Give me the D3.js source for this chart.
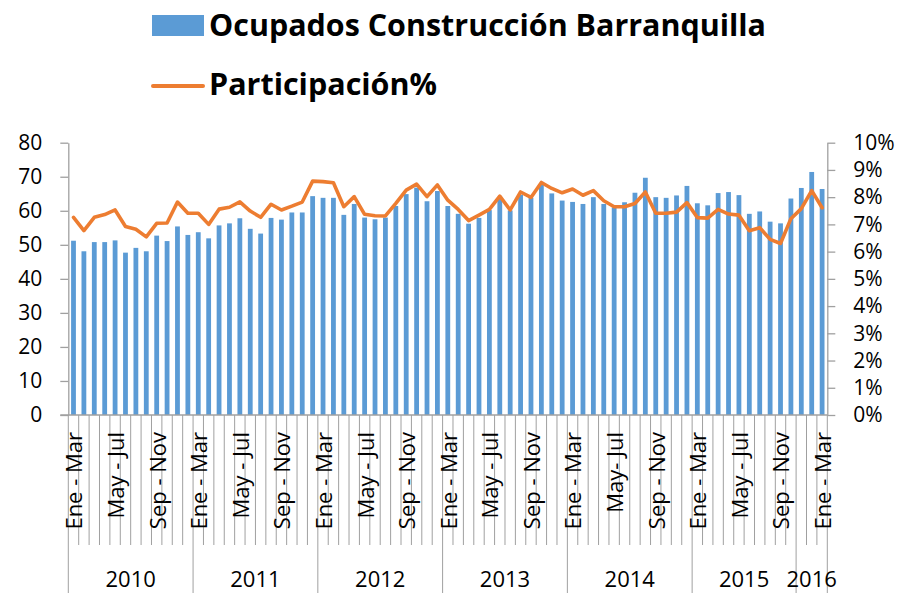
<!DOCTYPE html>
<html>
<head>
<meta charset="utf-8">
<title>Ocupados Construcción Barranquilla</title>
<style>
  body { margin: 0; background: #fff; }
  svg { display: block; font-family: "Open Sans", sans-serif; }
</style>
</head>
<body>
<svg width="901" height="593"></svg>
<script src="https://cdn.jsdelivr.net/npm/d3@7"></script>
<script>
// trimestres móviles (etiqueta de cada categoría)
const periodos = [
  "Ene - Mar","Feb - Abr","Mar - May","Abr - Jun","May - Jul","Jun - Ago","Jul - Sep","Ago - Oct","Sep - Nov","Oct - Dic","Nov - Ene","Dic - Feb",
  "Ene - Mar","Feb - Abr","Mar - May","Abr - Jun","May - Jul","Jun - Ago","Jul - Sep","Ago - Oct","Sep - Nov","Oct - Dic","Nov - Ene","Dic - Feb",
  "Ene - Mar","Feb - Abr","Mar - May","Abr - Jun","May - Jul","Jun - Ago","Jul - Sep","Ago - Oct","Sep - Nov","Oct - Dic","Nov - Ene","Dic - Feb",
  "Ene - Mar","Feb - Abr","Mar - May","Abr - Jun","May - Jul","Jun - Ago","Jul - Sep","Ago - Oct","Sep - Nov","Oct - Dic","Nov - Ene","Dic - Feb",
  "Ene - Mar","Feb - Abr","Mar - May","Abr - Jun","May- Jul","Jun - Ago","Jul - Sep","Ago - Oct","Sep - Nov","Oct - Dic","Nov - Ene","Dic - Feb",
  "Ene - Mar","Feb - Abr","Mar - May","Abr - Jun","May - Jul","Jun - Ago","Jul - Sep","Ago - Oct","Sep - Nov","Oct - Dic",
  "Nov - Ene","Dic - Feb","Ene - Mar"
]
// años y cuántos trimestres abarca cada uno
const anios = ["2010","2011","2012","2013","2014","2015","2016"]
const trimestresPorAnio = [12, 12, 12, 12, 12, 10, 3]

// miles de ocupados
const ocupados = [
  51.2,48.1,50.8,50.8,51.3,47.7,49.1,48.1,52.7,51.1,55.4,52.9,
  53.7,51.9,55.7,56.3,57.8,54.7,53.3,57.9,57.4,59.5,59.5,64.3,
  63.8,63.8,58.8,62.0,58.0,57.5,58.0,61.4,64.9,66.8,62.8,65.8,
  61.4,59.1,56.2,57.9,60.2,63.6,60.1,64.7,63.8,67.6,65.1,63.0,
  62.6,62.0,64.0,62.0,61.0,62.5,65.3,69.7,64.0,63.8,64.5,67.3,
  62.2,61.6,65.2,65.5,64.6,59.1,59.8,56.8,56.3,63.6,
  66.7,71.4,66.4
]
// participación (%)
const participacion = [
  7.26,6.77,7.26,7.36,7.53,6.92,6.82,6.54,7.04,7.05,7.82,7.41,
  7.41,7.00,7.56,7.63,7.83,7.49,7.26,7.74,7.53,7.67,7.82,8.59,
  8.57,8.53,7.65,8.02,7.37,7.32,7.31,7.77,8.26,8.48,8.02,8.45,
  7.89,7.55,7.14,7.34,7.55,8.04,7.53,8.19,7.99,8.54,8.32,8.16,
  8.30,8.07,8.24,7.87,7.65,7.65,7.77,8.19,7.41,7.41,7.45,7.80,
  7.25,7.23,7.55,7.38,7.34,6.77,6.88,6.45,6.30,7.21,
  7.58,8.24,7.61
]
const ticksIzq = [0,10,20,30,40,50,60,70,80]
const ticksDer = [0,1,2,3,4,5,6,7,8,9,10]

const azul = "#5B9BD5", naranja = "#ED7D31", gris = "#A0A0A0"
const mIzq = 68.3, mDer = 827.3, mSup = 142.7, mInf = 415

const svg = d3.select("svg")
const idx = d3.range(periodos.length)

// escalas
const x = d3.scaleBand().domain(idx).range([mIzq, mDer])
const yL = d3.scaleLinear().domain([0, 80]).range([mInf, mSup])
const yR = d3.scaleLinear().domain([0, 10]).range([mInf, mSup])

// barras
svg.append("g").selectAll("rect").data(ocupados).enter().append("rect")
  .attr("fill", azul)
  .attr("x", (d, i) => x(i) + x.bandwidth()/2 - 2.4)
  .attr("width", 4.8)
  .attr("y", d => yL(d))
  .attr("height", d => mInf - yL(d))

// ejes verticales
const ejeIzq = svg.append("g").attr("transform", `translate(${mIzq},0)`)
  .call(d3.axisLeft(yL).tickValues(ticksIzq).tickSize(8).tickSizeOuter(0).tickPadding(18))
const ejeDer = svg.append("g").attr("transform", `translate(${mDer},0)`)
  .call(d3.axisRight(yR).tickValues(ticksDer).tickSize(8).tickSizeOuter(0).tickPadding(18)
    .tickFormat(d => d + "%"))
;[ejeIzq, ejeDer].forEach(g => {
  g.select(".domain").attr("stroke", gris).attr("stroke-width", 1.3)
  g.selectAll(".tick line").attr("stroke", gris).attr("stroke-width", 1.3)
  g.selectAll(".tick text").attr("fill", "#000").style("font-size", "21px")
    .style("font-family", "'Open Sans', sans-serif")
})

// línea de participación
svg.append("path").datum(participacion)
  .attr("fill", "none").attr("stroke", naranja).attr("stroke-width", 3.6)
  .attr("stroke-linejoin", "round").attr("stroke-linecap", "round")
  .attr("d", d3.line().x((d, i) => x(i) + x.bandwidth()/2).y(d => yR(d)))

// eje de categorías
const ejeX = svg.append("g")
ejeX.append("line").attr("x1", mIzq - 8).attr("x2", mDer)
  .attr("y1", mInf).attr("y2", mInf).attr("stroke", gris).attr("stroke-width", 1.3)

// separadores de años
let limites = [0]
trimestresPorAnio.forEach((n, i) => limites.push(limites[i] + n))
const bordeX = i => i < periodos.length ? x(i) : mDer

ejeX.selectAll("line.cat").data(d3.range(periodos.length + 1)).enter().append("line")
  .attr("class", "cat")
  .attr("x1", d => bordeX(d)).attr("x2", d => bordeX(d))
  .attr("y1", mInf).attr("y2", d => limites.includes(d) ? 593 : 545)
  .attr("stroke", gris).attr("stroke-width", 1)

// etiquetas de trimestre (cada 4)
ejeX.selectAll("text.per").data(idx.filter(i => i % 4 == 0)).enter().append("text")
  .attr("class", "per")
  .attr("transform", i => `translate(${x(i) + x.bandwidth()/2 + 1},432) rotate(-90)`)
  .attr("text-anchor", "end").attr("dy", "0.36em")
  .style("font-size", "22px")
  .text(i => periodos[i])

// etiquetas de año
ejeX.selectAll("text.anio").data(anios).enter().append("text")
  .attr("class", "anio")
  .attr("x", (d, i) => (bordeX(limites[i]) + bordeX(limites[i+1])) / 2)
  .attr("y", 587)
  .attr("text-anchor", "middle")
  .style("font-size", "22px")
  .text(d => d)

// leyenda
const ley = svg.append("g")
ley.append("rect").attr("x", 152).attr("y", 15).attr("width", 52).attr("height", 21).attr("fill", azul)
ley.append("text").attr("x", 209).attr("y", 36)
  .attr("textLength", 557).attr("lengthAdjust", "spacingAndGlyphs")
  .style("font-size", "30px").style("font-weight", "bold")
  .text("Ocupados Construcción Barranquilla")
ley.append("line").attr("x1", 153).attr("x2", 203).attr("y1", 86).attr("y2", 86)
  .attr("stroke", naranja).attr("stroke-width", 4).attr("stroke-linecap", "round")
ley.append("text").attr("x", 209).attr("y", 95)
  .attr("textLength", 228).attr("lengthAdjust", "spacingAndGlyphs")
  .style("font-size", "30px").style("font-weight", "bold")
  .text("Participación%")
</script>
</body>
</html>
